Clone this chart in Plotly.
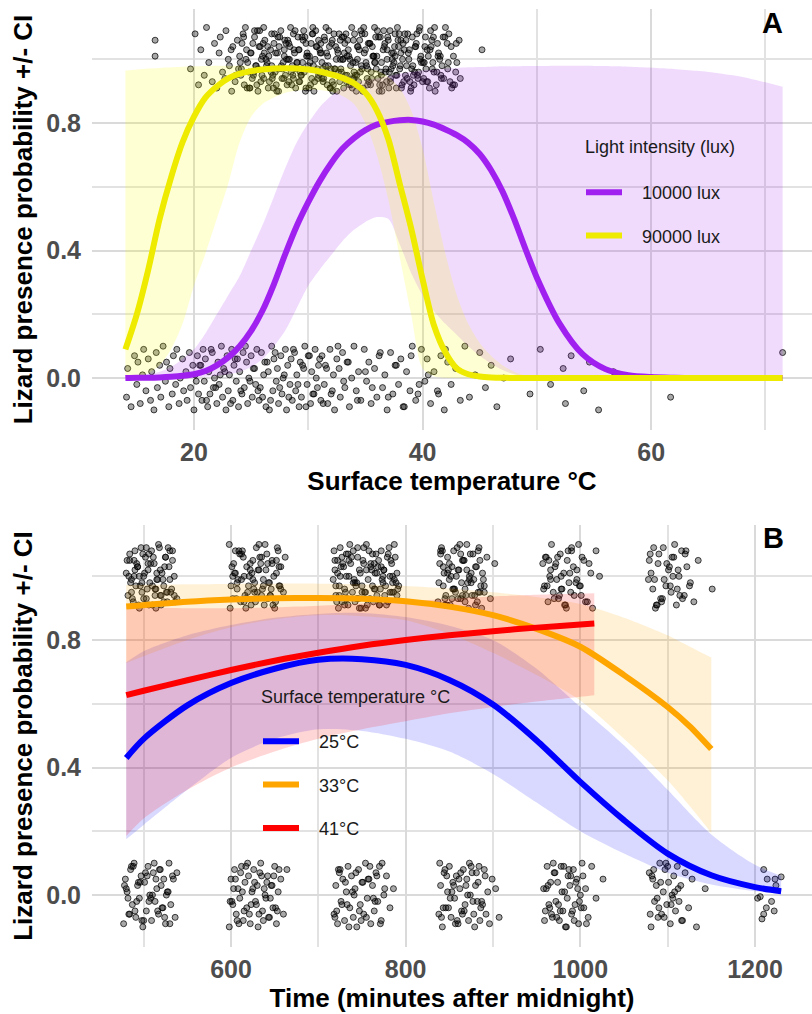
import plotly.graph_objects as go

FONT = "Liberation Sans, Arial, Helvetica, sans-serif"

# ---------------- Panel A : surface temperature ----------------
temp_grid = [14,15,16,17,18,19,20,21,22,23,24,25,26,27,28,29,30,31,32,33,34,35,36,37,38,39,40,41,42,43,44,45,46,47,48,49,50,
             52,54,56,58,60,62,64,66,68,70,71.5]
lux10k_fit = [0.000,0.001,0.001,0.002,0.004,0.007,0.012,0.022,0.040,0.065,0.100,0.148,0.212,0.295,0.390,0.478,0.552,0.618,0.674,
              0.720,0.753,0.778,0.795,0.804,0.809,0.810,0.805,0.795,0.780,0.762,0.738,0.703,0.652,0.585,0.500,0.405,0.315,
              0.170,0.075,0.028,0.009,0.003,0.001,0,0,0,0,0]
lux10k_hi = [0.003,0.006,0.012,0.020,0.035,0.060,0.090,0.140,0.200,0.260,0.320,0.400,0.480,0.570,0.660,0.740,0.800,0.850,0.885,
             0.910,0.925,0.935,0.940,0.947,0.955,0.960,0.965,0.968,0.971,0.973,0.975,0.976,0.977,0.978,0.978,0.979,0.979,
             0.980,0.980,0.979,0.977,0.974,0.970,0.964,0.956,0.945,0.928,0.914]
lux10k_lo = [0,0,0,0,0.0005,0.001,0.002,0.004,0.007,0.012,0.020,0.035,0.060,0.100,0.150,0.220,0.290,0.340,0.385,
             0.430,0.465,0.490,0.505,0.500,0.420,0.330,0.260,0.210,0.170,0.135,0.100,0.070,0.045,0.025,0.012,0.005,0.002,
             0,0,0,0,0,0,0,0,0,0,0]
lux90k_fit = [0.090,0.200,0.340,0.500,0.630,0.740,0.820,0.880,0.915,0.940,0.955,0.963,0.968,0.971,0.972,0.971,0.968,0.962,0.953,
              0.942,0.925,0.895,0.840,0.750,0.610,0.470,0.310,0.165,0.080,0.030,0.012,0.005,0.002,0.001,0,0,0,
              0,0,0,0,0,0,0,0,0,0,0]
lux90k_hi = [0.965,0.968,0.971,0.973,0.975,0.977,0.978,0.979,0.980,0.980,0.980,0.980,0.980,0.980,0.980,0.980,0.980,0.980,0.979,
             0.977,0.974,0.970,0.965,0.945,0.910,0.840,0.720,0.550,0.390,0.260,0.170,0.110,0.070,0.040,0.020,0.008,0.003,
             0.0005,0,0,0,0,0,0,0,0,0,0]
lux90k_lo = [0.002,0.006,0.015,0.040,0.090,0.170,0.290,0.390,0.500,0.610,0.740,0.820,0.860,0.880,0.895,0.902,0.905,0.904,0.898,
             0.885,0.860,0.800,0.700,0.560,0.380,0.200,0.030,0.006,0.001,0,0,0,0,0,0,0,0,
             0,0,0,0,0,0,0,0,0,0,0]

# observed lizard presence (jittered) -- panel A
a_top_temp = [16.6,16.6,19.7,20.1,20.4,20.6,20.9,21.1,21.3,21.6,21.8,22.0,22.2,22.3,22.5,22.7,22.8,23.0,23.1,23.3,23.4,23.6,23.8,23.9,
    24.0,24.1,24.3,24.4,24.6,24.7,24.9,24.2,24.5,24.8,
    25.0,25.1,25.3,25.4,25.6,25.7,25.9,25.2,25.5,25.8,25.3,25.6,
    26.0,26.1,26.2,26.4,26.5,26.7,26.8,26.9,26.3,26.6,26.1,26.8,
    27.0,27.1,27.3,27.4,27.5,27.7,27.8,27.9,27.2,27.6,27.4,27.9,
    28.0,28.2,28.3,28.4,28.6,28.7,28.9,28.1,28.5,28.8,28.3,28.7,
    29.0,29.1,29.2,29.4,29.5,29.7,29.8,29.9,29.3,29.6,29.2,29.8,
    30.0,30.1,30.3,30.4,30.5,30.7,30.8,30.9,30.2,30.6,30.4,30.9,
    31.0,31.2,31.3,31.4,31.6,31.7,31.9,31.1,31.5,31.8,31.2,31.6,
    32.0,32.1,32.2,32.4,32.5,32.7,32.8,32.9,32.3,32.6,32.1,32.8,
    33.0,33.1,33.3,33.4,33.5,33.7,33.8,33.9,33.2,33.6,33.4,33.9,33.1,
    34.0,34.2,34.3,34.4,34.6,34.7,34.9,34.1,34.5,34.8,34.3,34.7,34.0,
    35.0,35.1,35.2,35.4,35.5,35.7,35.8,35.9,35.3,35.6,35.2,35.8,
    36.0,36.1,36.3,36.4,36.5,36.7,36.8,36.9,36.2,36.6,36.4,36.9,
    37.0,37.2,37.3,37.4,37.6,37.7,37.9,37.1,37.5,37.8,37.2,37.6,
    38.0,38.1,38.2,38.4,38.5,38.7,38.8,38.9,38.3,38.6,38.1,
    39.0,39.1,39.3,39.4,39.6,39.7,39.9,39.2,39.5,39.8,
    40.0,40.2,40.3,40.5,40.6,40.8,40.9,40.1,40.4,40.7,
    41.0,41.2,41.3,41.5,41.7,41.8,41.1,41.4,41.6,
    42.0,42.2,42.4,42.5,42.7,42.9,42.3,42.8,
    43.0,43.2,43.3,45.2,
    24.15,24.55,24.85,25.15,25.45,25.75,25.95,26.15,26.45,26.75,26.95,27.15,27.35,27.65,27.85,28.05,28.25,28.55,28.85,28.95,
    29.15,29.35,29.55,29.75,29.95,30.15,30.35,30.55,30.75,30.95,31.05,31.35,31.55,31.75,31.95,32.05,32.35,32.55,32.75,32.95,
    33.05,33.25,33.55,33.75,33.95,34.15,34.35,34.55,34.75,34.95,35.05,35.35,35.55,35.75,35.95,36.05,36.25,36.55,36.75,36.95,
    37.05,37.35,37.55,37.75,37.95,38.05,38.35,38.55,38.75,38.95,39.05,39.35,39.55,39.75,40.05,40.35,40.65,40.95,41.25,41.55,
    41.85,42.15,42.55]
a_top_temp_more = [23.25,23.65,24.05,24.35,24.65,24.95,25.25,25.55,25.85,26.05,26.35,26.55,26.85,27.05,27.25,27.45,27.75,27.95,
    28.15,28.35,28.45,28.65,28.75,29.05,29.25,29.45,29.65,29.85,30.05,30.25,30.45,30.65,30.85,31.15,31.25,31.45,31.65,31.85,
    32.15,32.25,32.45,32.65,32.85,33.15,33.35,33.45,33.65,33.85,34.05,34.25,34.45,34.65,34.85,35.15,35.25,35.45,35.65,35.85,
    36.15,36.35,36.45,36.65,36.85,37.15,37.25,37.45,37.65,37.85,38.15,38.25,38.45,38.65,38.85,39.15,39.25,39.45,39.65,39.85,
    40.15,40.25,40.45,40.75,40.85,41.05,41.35,41.65,41.95,42.25,42.65,42.95]
a_bot_temp = [14.1,14.2,14.5,14.8,15.0,15.1,15.3,15.5,15.6,15.8,16.0,16.2,16.3,16.5,16.7,16.8,17.0,17.1,17.3,17.5,17.6,17.8,17.9,
    18.1,18.2,18.4,18.5,18.7,18.8,19.0,19.1,19.3,19.4,19.6,19.7,19.9,
    20.0,20.1,20.3,20.4,20.5,20.7,20.8,20.9,21.0,21.2,21.3,21.4,21.6,21.7,21.8,22.0,22.1,22.2,22.4,22.5,22.6,22.8,22.9,
    23.0,23.1,23.3,23.4,23.5,23.7,23.8,23.9,24.0,24.2,24.3,24.4,24.6,24.7,24.8,25.0,25.1,25.2,25.4,25.5,25.6,25.8,25.9,
    26.0,26.1,26.3,26.4,26.5,26.7,26.8,26.9,27.0,27.2,27.3,27.4,27.6,27.7,27.8,28.0,28.1,28.2,28.4,28.5,28.6,28.8,28.9,
    29.0,29.2,29.3,29.4,29.6,29.7,29.9,30.0,30.2,30.3,30.5,30.6,30.8,30.9,31.1,31.2,31.4,31.5,31.7,31.9,32.0,32.2,32.3,
    32.5,32.7,32.8,33.0,33.2,33.4,33.6,33.8,34.0,34.2,34.4,34.6,34.9,35.1,35.3,35.5,35.8,36.0,36.2,36.5,36.7,36.9,37.2,
    37.4,37.6,37.9,38.1,38.4,38.6,38.9,39.1,39.4,39.6,39.9,40.2,40.4,40.7,41.0,41.3,41.6,41.9,42.2,42.5,42.9,43.3,43.7,
    44.1,44.6,45.0,45.5,46.0,46.5,47.1,47.7,49.4,50.3,51.2,52.3,52.5,53.0,54.1,54.6,55.4,56.7,61.7,71.5,
    20.2,20.6,21.1,21.5,21.9,22.3,22.7,23.2,23.6,24.1,24.5,24.9,25.3,25.7,26.2,26.6,27.1,27.5,27.9,28.3,28.7,29.1,29.5,
    29.8,30.1,30.4,30.7,31.0,31.3,31.6,32.1,32.6,33.1,33.5,34.3,35.0,35.6,36.3,37.0,37.7,38.3,39.0,39.7,40.5,41.4,42.0]

# jitter heights of the "present" (1) and "absent" (0) observations
top_row1 = [1.06,1.01,0.97,1.08,0.92,1.03,0.95,1.10,0.99,0.93,1.05,0.91,1.02,1.07,0.96,0.94,1.09,1.00,0.98,0.90,1.04,0.93,1.06,0.97,1.01,0.95,1.08,0.92,1.03,0.99,0.91,1.05,1.10,0.96,1.02,0.94,1.07,0.98,0.90,1.04,1.00,0.95]
top_row2 = [0.92,1.04,1.09,0.97,1.01,0.94,1.06,0.99,0.91,1.03,1.08,0.95,1.00,0.93,1.10,0.98,1.05,0.96,1.02,0.90,1.07,0.94,0.99,1.03,0.92,1.09,0.97,1.01,0.95,1.06,0.93,1.04,0.98,1.08,0.91,1.00,0.96,1.02,1.05,0.94,0.99,1.07]
top_row3 = [1.03,0.95,0.99,1.07,0.91,1.02,0.96,1.09,0.93,1.05,0.98,1.01,0.94,1.08,0.90,1.04,0.97,1.06,0.92,1.00,1.10,0.95,1.03,0.99,0.93,1.07,0.96,1.01,0.91,1.05,0.98,1.09,0.94,1.02,0.97,1.06,0.92,1.04,0.90,1.08,1.00,0.96]
top_row4 = [0.97,1.02,0.93,1.06,1.00,0.91,1.08,0.95,1.03,0.98,1.10,0.94,1.05,0.92,1.01,0.99,1.07,0.96,0.90,1.04,0.93,1.09,0.97,1.02,0.95,1.06,0.91,1.00,1.08,0.94,1.03,0.98,0.92,1.05,0.96,1.01,0.99,1.07,0.93,1.04,0.97,1.10]
top_row5 = [1.01,0.94,1.07,0.99,0.92,1.05,0.97,1.03,0.90,1.09,0.95,1.00,1.06,0.93,1.02,0.98,1.08,0.91,1.04,0.96,0.99,1.10,0.94,1.01,0.97,1.06,0.92,1.03,0.95,1.08,1.00,0.93,1.05,0.98,1.02,0.91,1.07,0.96,1.04,0.94,1.09,0.99]
top_row6 = [0.95,1.08,1.00,0.93,1.04,0.97,1.01,0.91,1.06,0.99,0.94,1.03,1.09,0.96,0.92,1.05,1.00,0.98,1.07,0.90,1.02,0.95,1.10,0.97,0.93,1.04,1.01,0.96,1.08,0.92,0.99,1.06,0.94,1.03,0.97,1.00,0.91,1.05,0.98,1.09,0.95,1.02]
top_row7 = [1.04,0.96,0.91,1.02,1.07,0.98,0.94,1.05,1.00,0.92,1.09,0.97,1.03,0.95,1.06,0.90,1.01,0.99,1.08,0.93,1.04,0.96,1.02,0.94,1.10,0.98,0.91,1.05,0.97,1.03,0.93,1.07,1.00,0.95,1.01,0.92,1.06,0.99,1.04,0.96,0.90,1.08]
top_row8 = [0.99,1.05,0.94,1.01,0.97,1.09,0.92,1.03,0.96,1.07,0.91,1.00,1.04,0.95,1.08,0.98,0.93,1.06,1.02,0.90,0.97,1.04,0.95,1.10,0.99,0.93,1.03,1.07,0.96,1.01,0.94,1.05,0.91,1.08,0.98,1.02,0.97,1.06,0.92,1.00,1.04,0.95]
top_row9 = [1.02,0.93,1.08,0.97,1.05,0.91,0.99,1.06,0.94,1.03,0.96,1.09]
bot_row1 = [-0.06,0.03,-0.09,0.07,-0.02,0.05,-0.08,0.01,0.09,-0.04,0.06,-0.07,0.02,-0.10,0.08,-0.03,0.04,-0.06,0.10,-0.01,0.05,-0.09,0.03,-0.05,0.07,-0.02,0.09,-0.08,0.00,0.06,-0.04,0.02,-0.07,0.08,-0.03,0.04,-0.10,0.01,0.07,-0.05]
bot_row2 = [0.04,-0.07,0.09,-0.01,0.06,-0.09,0.02,-0.05,0.08,-0.03,0.00,-0.08,0.05,-0.02,0.10,-0.06,0.03,-0.10,0.07,-0.04,0.01,0.09,-0.07,0.04,-0.01,0.06,-0.09,0.02,-0.05,0.08,-0.03,0.05,-0.08,0.00,0.07,-0.06,0.03,-0.02,0.09,-0.04]
bot_row3 = [-0.03,0.08,-0.06,0.01,-0.09,0.05,0.02,-0.07,0.10,-0.04,0.06,-0.01,0.03,-0.08,0.07,-0.05,0.00,0.09,-0.10,0.04,-0.02,0.06,-0.07,0.08,-0.04,0.01,-0.09,0.05,-0.06,0.03,0.10,-0.02,0.07,-0.08,0.02,-0.05,0.09,-0.03,0.04,-0.07]
bot_row4 = [0.07,-0.02,0.04,-0.08,0.09,-0.05,0.01,-0.10,0.06,0.03,-0.06,0.08,-0.03,0.05,-0.09,0.00,0.10,-0.04,0.02,-0.07,0.09,-0.01,0.05,-0.08,0.03,-0.06,0.07,-0.03,0.01,-0.10,0.08,-0.05,0.04,-0.02,0.06,-0.09,0.02,-0.04,0.10,-0.07]
bot_row5 = [-0.05,0.09,-0.01,0.06,-0.08,0.02,-0.04,0.07,-0.10,0.05,-0.02,0.03,-0.07,0.10,-0.06,0.01,0.08,-0.03,0.04,-0.09,0.00,0.06,-0.05,0.09,-0.02,0.03,-0.08,0.07,-0.04,0.05,-0.10,0.02,-0.06,0.08,-0.01,0.04,-0.07,0.09,-0.03,0.01]
bot_row6 = [0.02,-0.08,0.06,-0.04,0.10,-0.01,0.03,-0.07,0.05,-0.10,0.08,-0.03,0.01,-0.06,0.09,-0.02,0.04,-0.09,0.07,-0.05,0.00,0.06,-0.08,0.03,-0.04,0.10,-0.01,0.05,-0.07,0.02,-0.03,0.08,-0.06,0.04,-0.09,0.07,-0.02,0.01,-0.05,0.09]
bot_row7 = [-0.09,0.05,0.01,-0.06,0.08,-0.03,0.10,-0.07,0.03,-0.01,0.06,-0.10,0.04,-0.05,0.09,0.00,-0.08,0.07,-0.02,0.02,-0.06,0.08,-0.04,0.05,-0.09,0.01,0.10,-0.03,0.06,-0.07,0.03,-0.01,0.09,-0.05,0.04,-0.08,0.07,-0.02,0.00,0.05]
bot_row8 = [0.08,-0.04,0.00,-0.09,0.05,0.02,-0.06,0.09,-0.02,0.04,-0.08,0.06,-0.01,0.10,-0.05,0.03,-0.07,0.01,0.07,-0.10,0.05,-0.03,0.08,-0.06,0.02,-0.01,0.09,-0.08,0.04,-0.04,0.06,-0.09,0.01,0.08,-0.02,0.03,-0.06,0.10,-0.05,0.02]
bot_row9 = [-0.01,0.06,-0.07,0.03,-0.04,0.09,-0.09,0.01,0.05,-0.06,0.08,-0.02,0.02,-0.08,0.07,-0.05,0.10,-0.03,0.04,-0.10,0.06,0.00,-0.07,0.03,-0.04,0.08,-0.02,0.05,-0.09,0.01,0.09,-0.06,0.02,-0.03,0.07,-0.08,0.04,-0.01,0.06,-0.05]

# ---------------- Panel B : time of day ----------------
t25 = [480,500,550,600,650,700,750,800,850,900,950,1000,1050,1100,1150,1200,1230]
s25_fit = [0.430,0.490,0.595,0.665,0.710,0.738,0.740,0.722,0.675,0.598,0.485,0.355,0.235,0.130,0.062,0.025,0.012]
s25_hi = [0.730,0.765,0.815,0.847,0.870,0.882,0.885,0.872,0.845,0.800,0.710,0.590,0.470,0.330,0.190,0.095,0.060]
s25_lo = [0.175,0.220,0.330,0.430,0.490,0.520,0.515,0.490,0.450,0.380,0.290,0.200,0.130,0.070,0.033,0.012,0.004]
t33 = [480,550,600,650,700,750,800,850,900,950,1000,1050,1100,1125,1150]
s33_fit = [0.905,0.920,0.927,0.931,0.932,0.930,0.922,0.905,0.878,0.835,0.779,0.690,0.590,0.530,0.458]
s33_hi = [0.973,0.975,0.976,0.977,0.977,0.975,0.970,0.962,0.950,0.935,0.913,0.870,0.815,0.780,0.745]
s33_lo = [0.728,0.800,0.840,0.865,0.878,0.875,0.862,0.820,0.760,0.690,0.610,0.490,0.360,0.280,0.195]
t41 = [480,500,550,600,650,700,750,800,850,900,950,1000,1016]
s41_fit = [0.627,0.641,0.674,0.706,0.735,0.760,0.782,0.800,0.815,0.828,0.839,0.849,0.852]
s41_hi = [0.905,0.903,0.900,0.900,0.903,0.908,0.915,0.922,0.930,0.937,0.942,0.946,0.947]
s41_lo = [0.185,0.240,0.330,0.400,0.450,0.490,0.520,0.545,0.570,0.590,0.607,0.622,0.627]

b_top_time = [480,482,484,486,488,489,491,493,495,497,498,500,502,503,505,507,509,510,512,514,516,517,519,521,523,525,527,529,531,533,535,538,
    481,485,490,494,499,504,508,513,518,522,526,530,483,487,492,496,501,506,511,515,520,524,528,532,536,484,489,498,506,514,519,527,
    598,600,602,603,605,607,609,611,612,614,616,618,620,621,623,625,627,629,630,632,634,636,638,640,641,643,645,647,649,651,653,655,657,660,662,
    599,604,608,613,617,622,626,631,635,639,644,648,652,656,601,606,610,615,619,624,628,633,637,642,646,650,654,
    717,719,720,722,724,725,727,729,730,732,734,735,737,739,740,742,744,745,747,749,750,752,754,755,757,759,760,762,764,765,767,769,770,772,
    774,775,777,779,780,782,784,786,788,790,792,718,721,726,731,736,741,746,751,756,761,766,771,776,781,785,789,723,728,733,738,743,748,753,
    758,763,768,773,778,783,787,791,719,724,734,744,754,764,774,784,
    837,839,841,843,844,846,848,850,851,853,855,857,858,860,862,864,866,868,870,872,874,876,878,880,882,884,886,888,890,893,897,902,
    838,842,847,852,856,861,865,869,873,877,881,885,889,840,845,849,854,859,863,867,871,875,879,883,887,
    957,959,961,963,965,967,969,971,973,975,977,979,981,983,985,987,990,993,996,999,1002,1006,1010,1014,1018,1022,
    958,962,966,970,974,978,982,986,989,992,995,998,1001,1004,1008,1012,
    1078,1080,1083,1086,1089,1092,1095,1098,1101,1104,1107,1110,1113,1116,1119,1122,1126,1130,1135,1151,
    1081,1085,1090,1094,1099,1103,1108,1112,1117,1121,1125,1079,1087,1096,1105,1114]
b_top_time_more = [486,490,495,500,505,510,515,520,525,530,535,493,503,513,523,533,
    602,607,612,617,622,627,632,637,642,647,652,657,605,615,625,635,645,655,
    720,725,730,735,740,745,750,755,760,765,770,775,780,785,790,722,732,742,752,762,772,782,727,747,767,787,
    840,845,850,855,860,865,870,875,880,885,890,843,853,863,873,883,848,868,
    960,966,972,978,984,990,996,964,976,988,1000,
    1084,1093,1102,1111,1120,1088,1106]
b_bot_time = [477,479,481,483,485,487,489,491,493,495,497,499,501,503,505,507,509,511,513,515,517,519,521,523,525,527,529,531,533,536,
    478,482,486,490,494,498,502,506,510,514,518,522,526,530,534,480,484,488,492,496,500,504,508,512,516,520,524,528,538,
    598,600,602,604,606,608,610,612,614,616,618,620,622,624,626,628,630,632,634,636,638,640,642,644,646,648,650,652,654,657,660,664,
    599,603,607,611,615,619,623,627,631,635,639,643,647,651,655,601,605,609,613,617,621,625,629,633,637,641,645,649,653,
    718,720,722,724,726,728,730,732,734,736,738,740,742,744,746,748,750,752,754,756,758,760,762,764,766,768,770,772,775,778,782,786,
    719,723,727,731,735,739,743,747,751,755,759,763,767,771,776,721,725,733,741,749,757,765,773,
    838,840,842,844,846,848,850,852,854,856,858,860,862,864,866,868,870,872,874,876,878,880,882,884,886,888,890,892,894,896,899,903,907,
    839,843,847,851,855,859,863,867,871,875,879,883,887,891,841,845,849,853,857,861,865,869,873,877,881,885,
    958,960,962,964,966,968,970,972,974,976,978,980,982,984,986,988,990,992,994,996,998,1000,1002,1004,1006,1009,1013,1018,1026,
    959,963,967,971,975,979,983,987,991,995,999,1003,1007,961,965,969,973,977,981,985,989,993,997,1001,
    1079,1081,1083,1085,1087,1089,1091,1093,1095,1097,1099,1101,1103,1105,1107,1109,1111,1113,1115,1117,1120,1124,1128,1133,1143,
    1080,1084,1088,1092,1096,1100,1104,1108,1112,1116,1082,1090,1098,1106]
b_late_time = [1210,1214,1223,1230,1224,1203,1206,1219,1213,1222,1210,1208]
b_late_y = [0.08,0.05,0.05,0.057,0.03,-0.01,-0.005,-0.02,-0.04,-0.05,-0.06,-0.075]

# ---------------- figure ----------------
fig = go.Figure()
PT = dict(size=6, color="rgba(0,0,0,0.34)", line=dict(color="rgba(0,0,0,0.72)", width=1))
NBSP = "\u00a0\u00a0\u00a0"


def points(x, y, xa, ya):
    n = min(len(x), len(y))
    fig.add_trace(go.Scatter(x=x[:n], y=y[:n], mode="markers", marker=PT, showlegend=False,
                             hoverinfo="skip", xaxis=xa, yaxis=ya))


def band(x, lo, hi, fill, xa, ya):
    fig.add_trace(go.Scatter(x=x, y=lo, mode="lines", line=dict(width=0, shape="spline", smoothing=0.8),
                             showlegend=False, hoverinfo="skip", xaxis=xa, yaxis=ya))
    fig.add_trace(go.Scatter(x=x, y=hi, mode="lines", line=dict(width=0, shape="spline", smoothing=0.8),
                             fill="tonexty", fillcolor=fill, showlegend=False, hoverinfo="skip",
                             xaxis=xa, yaxis=ya))


def curve(x, y, color, name, xa, ya, leg):
    fig.add_trace(go.Scatter(x=x, y=y, mode="lines", line=dict(color=color, width=6, shape="spline", smoothing=0.8),
                             name=NBSP + name, legendgroup=name, legend=leg, xaxis=xa, yaxis=ya))


top_A = top_row1 + top_row2 + top_row3 + top_row4 + top_row5 + top_row6 + top_row7 + top_row8
top_A_more = top_row3 + top_row4 + top_row5
bot_A = bot_row1 + bot_row2 + bot_row3 + bot_row4 + bot_row5 + bot_row6
top_B = top_row5 + top_row6 + top_row7 + top_row8 + top_row1 + top_row2 + top_row3 + top_row4 + top_row9
top_B_more = top_row6 + top_row7 + top_row8
bot_B = bot_row7 + bot_row8 + bot_row9 + bot_row1 + bot_row2 + bot_row3 + bot_row4 + bot_row5 + bot_row6

# Panel A
points(a_top_temp, top_A, "x", "y")
points(a_top_temp_more, top_A_more, "x", "y")
points(a_bot_temp, bot_A, "x", "y")
band(temp_grid, lux10k_lo, lux10k_hi, "rgba(160,32,240,0.16)", "x", "y")
band(temp_grid, lux90k_lo, lux90k_hi, "rgba(255,255,0,0.17)", "x", "y")
curve(temp_grid, lux10k_fit, "#A020F0", "10000 lux", "x", "y", "legend")
curve(temp_grid, lux90k_fit, "#EEEA00", "90000 lux", "x", "y", "legend")

# Panel B
points(b_top_time, top_B, "x2", "y2")
points(b_top_time_more, top_B_more, "x2", "y2")
points(b_bot_time, bot_B, "x2", "y2")
points(b_late_time, b_late_y, "x2", "y2")
band(t25, s25_lo, s25_hi, "rgba(0,0,255,0.15)", "x2", "y2")
band(t33, s33_lo, s33_hi, "rgba(255,165,0,0.16)", "x2", "y2")
band(t41, s41_lo, s41_hi, "rgba(255,0,0,0.16)", "x2", "y2")
curve(t25, s25_fit, "#0000FF", "25°C", "x2", "y2", "legend2")
curve(t33, s33_fit, "#FFA500", "33°C", "x2", "y2", "legend2")
curve(t41, s41_fit, "#FF0000", "41°C", "x2", "y2", "legend2")

W, H = 812, 1014
GRID = "#DADADA"
MINOR = "#E2E2E2"
tickfont = dict(family=FONT, size=25, color="#4D4D4D", weight="bold")
titlefont = dict(family=FONT, size=26, color="#000000", weight="bold")

common = dict(showline=False, zeroline=False, ticks="", showgrid=True, gridcolor=GRID, gridwidth=2,
              tickfont=tickfont, fixedrange=True)
legfont = dict(family=FONT, size=18, color="#1A1A1A")

fig.update_layout(
    width=W, height=H, margin=dict(l=0, r=0, t=0, b=0),
    paper_bgcolor="white", plot_bgcolor="white",
    font=dict(family=FONT),
    xaxis=dict(domain=[92 / W, 1], anchor="y", range=[11.08, 74.07], tick0=0, dtick=20, ticklabelstandoff=5,
               minor=dict(dtick=10, showgrid=True, gridcolor=MINOR, gridwidth=1.5),
               title=dict(text="Surface temperature °C", font=titlefont, standoff=6), **common),
    yaxis=dict(domain=[1 - 430 / H, 1 - 9 / H], anchor="x", range=[-0.163, 1.158], tick0=0, dtick=0.4,
               tickformat=".1f", ticklabelstandoff=10,
               minor=dict(dtick=0.2, showgrid=True, gridcolor=MINOR, gridwidth=1.5),
               title=dict(text="Lizard presence probability +/- CI", font=titlefont, standoff=6), **common),
    xaxis2=dict(domain=[92 / W, 1], anchor="y2", range=[440.8, 1265.3], tick0=0, dtick=200, ticklabelstandoff=5,
                minor=dict(dtick=100, showgrid=True, gridcolor=MINOR, gridwidth=1.5),
                title=dict(text="Time (minutes after midnight)", font=titlefont, standoff=6), **common),
    yaxis2=dict(domain=[1 - 947 / H, 1 - 525 / H], anchor="x2", range=[-0.163, 1.161], tick0=0, dtick=0.4,
                tickformat=".1f", ticklabelstandoff=10,
                minor=dict(dtick=0.2, showgrid=True, gridcolor=MINOR, gridwidth=1.5),
                title=dict(text="Lizard presence probability +/- CI", font=titlefont, standoff=6), **common),
    legend=dict(x=581 / W, y=1 - 174 / H, xanchor="left", yanchor="top", bgcolor="rgba(0,0,0,0)",
                font=legfont, itemwidth=36, tracegroupgap=17, traceorder="grouped"),
    legend2=dict(x=258 / W, y=1 - 723 / H, xanchor="left", yanchor="top", bgcolor="rgba(0,0,0,0)",
                 font=legfont, itemwidth=36, tracegroupgap=17, traceorder="grouped"),
    showlegend=True,
    annotations=[
        dict(text="Light intensity (lux)", x=583 / W, y=1 - 147 / H, xref="paper", yref="paper",
             xanchor="left", yanchor="middle", showarrow=False, font=legfont),
        dict(text="Surface temperature °C", x=259 / W, y=1 - 697 / H, xref="paper", yref="paper",
             xanchor="left", yanchor="middle", showarrow=False, font=legfont),
        dict(text="A", x=772 / W, y=1 - 23 / H, xref="paper", yref="paper", xanchor="center", yanchor="middle",
             showarrow=False, font=dict(family=FONT, size=29, color="#000000", weight="bold")),
        dict(text="B", x=773 / W, y=1 - 538 / H, xref="paper", yref="paper", xanchor="center", yanchor="middle",
             showarrow=False, font=dict(family=FONT, size=29, color="#000000", weight="bold")),
    ],
)

fig.write_html("out.html")
